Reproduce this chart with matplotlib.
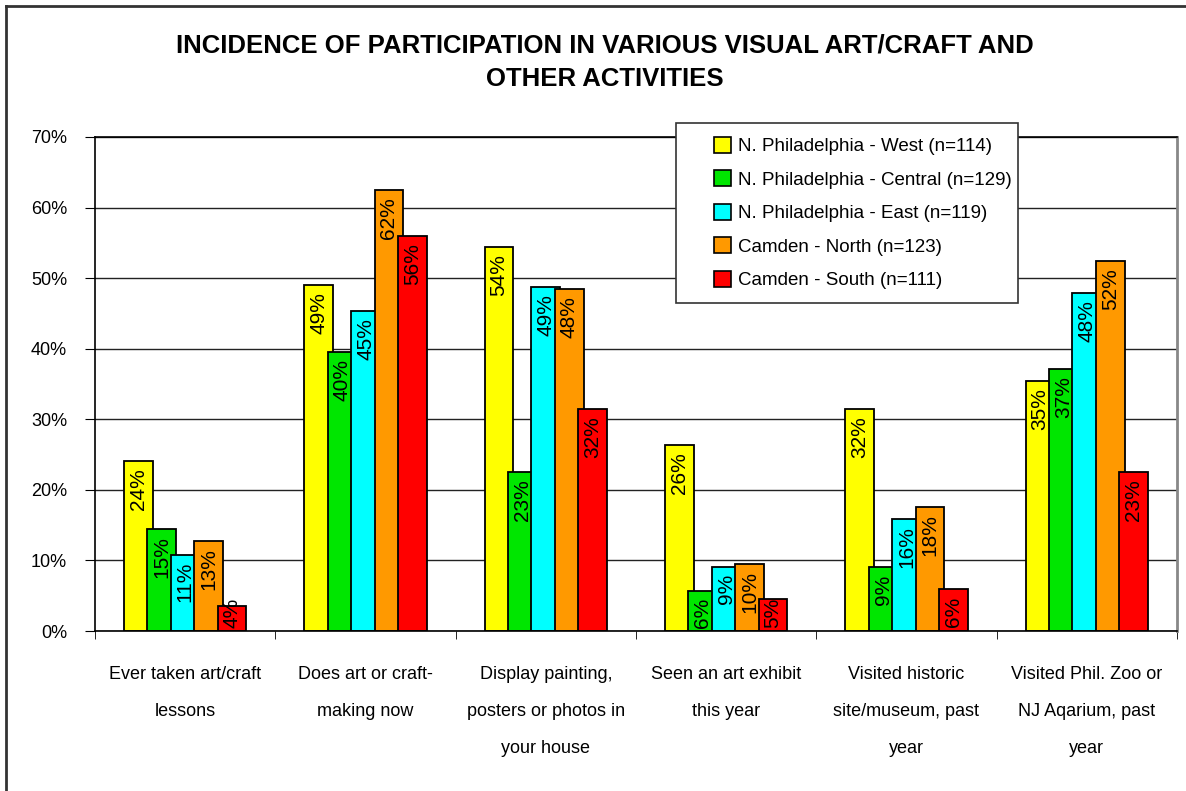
import matplotlib
matplotlib.use("Agg")
import numpy as np
from matplotlib import pyplot as plt
from matplotlib.lines import Line2D
from matplotlib.patches import Rectangle, Patch

categories = [
    "Ever taken art/craft\nlessons",
    "Does art or craft-\nmaking now",
    "Display painting,\nposters or photos in\nyour house",
    "Seen an art exhibit\nthis year",
    "Visited historic\nsite/museum, past\nyear",
    "Visited Phil. Zoo or\nNJ Aqarium, past\nyear",
]
series_names = [
    "N. Philadelphia - West (n=114)",
    "N. Philadelphia - Central (n=129)",
    "N. Philadelphia - East (n=119)",
    "Camden - North (n=123)",
    "Camden - South (n=111)",
]
west = [24.1, 49.0, 54.4, 26.3, 31.4, 35.4]
central = [14.5, 39.6, 22.5, 5.6, 9.0, 37.1]
east = [10.8, 45.3, 48.7, 9.1, 15.8, 47.9]
north = [12.7, 62.5, 48.4, 9.5, 17.6, 52.4]
south = [3.5, 56.0, 31.5, 4.5, 5.9, 22.5]
labels = [
    ["24%", "49%", "54%", "26%", "32%", "35%"],
    ["15%", "40%", "23%", "6%", "9%", "37%"],
    ["11%", "45%", "49%", "9%", "16%", "48%"],
    ["13%", "62%", "48%", "10%", "18%", "52%"],
    ["4%", "56%", "32%", "5%", "6%", "23%"],
]
colors = ["#FFFF00", "#00E600", "#00FFFF", "#FF9900", "#FF0000"]
yticks = [0, 10, 20, 30, 40, 50, 60, 70]

plt.rcParams['font.family'] = ['Liberation Sans', 'DejaVu Sans']
narrow = ['Liberation Sans Narrow', 'Liberation Sans', 'DejaVu Sans']

fig = plt.figure(figsize=(11.86, 7.91), dpi=100)
ax = fig.add_axes([95 / 1186, 1 - 631 / 791, (1177 - 95) / 1186, (631 - 137) / 791])

x = np.arange(len(categories))
step = 0.13
width = 0.16
all_series = [west, central, east, north, south]
for i, values in enumerate(all_series):
    pos = x + (i - 2) * step
    ax.bar(pos, values, width=width, color=colors[i], edgecolor='black', linewidth=1.3, zorder=2 + i * 0.1)
    for p, v, lab in zip(pos, values, labels[i]):
        top = max(v - 1.0, 4.7)
        ax.text(p, top, lab, rotation=90, ha='center', va='top', fontsize=15,
                family=narrow, zorder=4)

ax.set_xlim(-0.5, len(categories) - 0.5)
ax.set_ylim(0, 70)
ax.set_yticks(yticks)
ax.set_yticklabels([f"{t}%" for t in yticks], fontsize=13)
ax.set_xticks(x)
ax.set_xticklabels(categories, fontsize=13, linespacing=2.55)
ax.set_xticks(np.arange(len(categories) + 1) - 0.5, minor=True)
ax.tick_params(axis='x', which='major', length=0, pad=25)
ax.tick_params(axis='x', which='minor', length=6, direction='out')
ax.tick_params(axis='y', length=7, direction='out', pad=13)
ax.grid(axis='y', color='#222222', linewidth=1.0, zorder=1)
ax.set_axisbelow(True)
for side in ['left', 'bottom', 'top']:
    ax.spines[side].set_color('black')
    ax.spines[side].set_linewidth(1.2)
ax.spines['right'].set_color('#888888')
ax.spines['right'].set_linewidth(2)

fig.text(605 / 1186, 1 - 62 / 791, "INCIDENCE OF PARTICIPATION IN VARIOUS VISUAL ART/CRAFT AND\nOTHER ACTIVITIES",
         ha='center', va='center', fontsize=18.5, fontweight='bold', linespacing=1.5)

# legend box
fig.patches.append(Rectangle((676 / 1186, 1 - 303 / 791), (1018 - 676) / 1186, (303 - 123) / 791,
                             transform=fig.transFigure, facecolor='white', edgecolor='#333333',
                             linewidth=1.2, zorder=3))
handles = [Patch(facecolor=c, edgecolor='black', linewidth=1.2) for c in colors]
fig.legend(handles, series_names, loc='upper left', bbox_to_anchor=(706 / 1186, 1 - 129 / 791),
           frameon=False, fontsize=13.5, handlelength=0.95, handleheight=0.95, handletextpad=0.35,
           labelspacing=0.8, borderaxespad=0)

# outer chart border
fig.lines.append(Line2D([6 / 1186, 6 / 1186], [0, 1 - 6 / 791], transform=fig.transFigure,
                        color='#333333', linewidth=2))
fig.lines.append(Line2D([6 / 1186, 1], [1 - 6 / 791, 1 - 6 / 791], transform=fig.transFigure,
                        color='#333333', linewidth=2))

fig.savefig("out.png", dpi=100)
